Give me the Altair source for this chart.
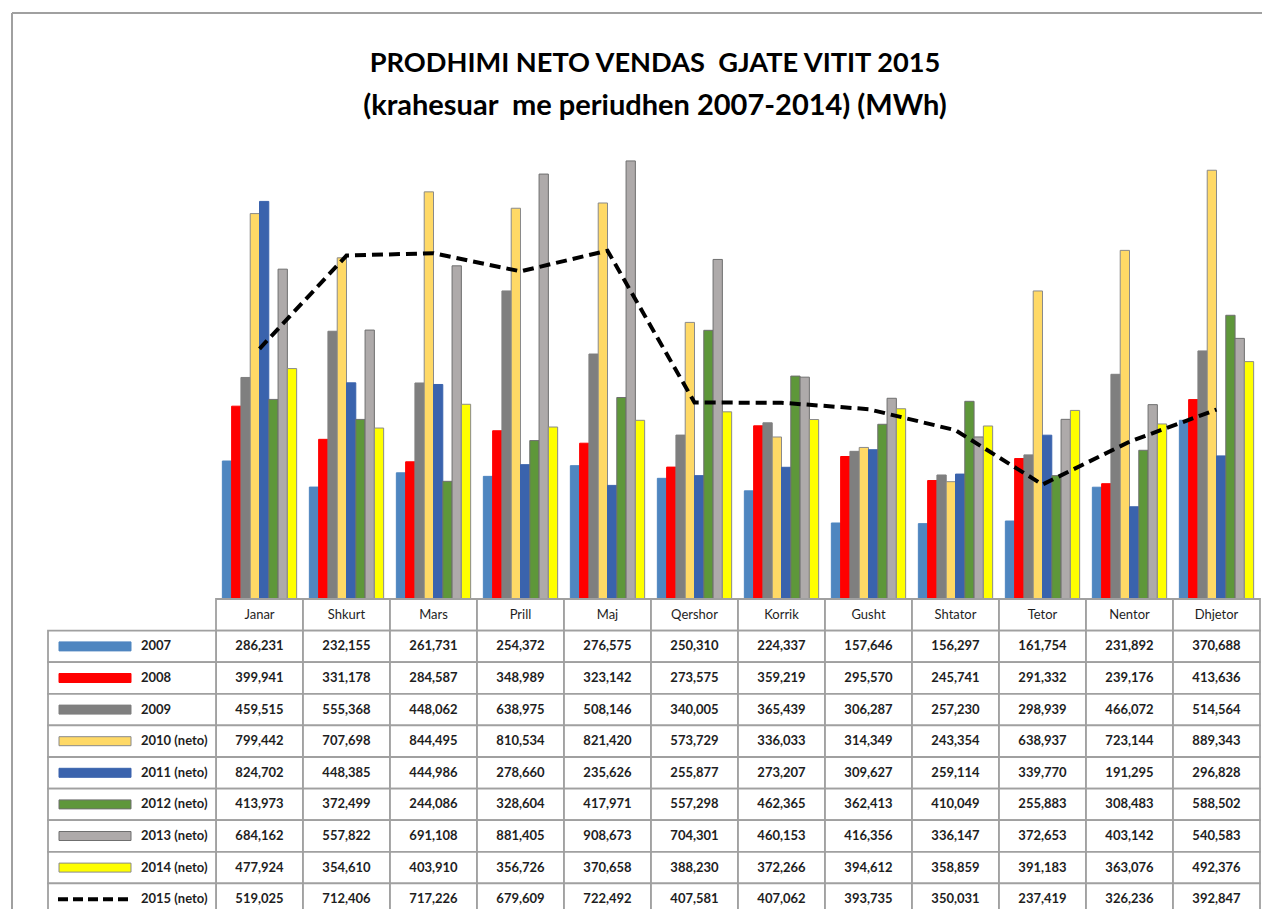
import altair as alt
import pandas as pd

months = ["Janar", "Shkurt", "Mars", "Prill", "Maj", "Qershor", "Korrik",
          "Gusht", "Shtator", "Tetor", "Nentor", "Dhjetor"]
series = ["2007", "2008", "2009", "2010 (neto)", "2011 (neto)", "2012 (neto)",
          "2013 (neto)", "2014 (neto)", "2015 (neto)"]
v2007 = [286231, 232155, 261731, 254372, 276575, 250310, 224337, 157646, 156297, 161754, 231892, 370688]
v2008 = [399941, 331178, 284587, 348989, 323142, 273575, 359219, 295570, 245741, 291332, 239176, 413636]
v2009 = [459515, 555368, 448062, 638975, 508146, 340005, 365439, 306287, 257230, 298939, 466072, 514564]
v2010 = [799442, 707698, 844495, 810534, 821420, 573729, 336033, 314349, 243354, 638937, 723144, 889343]
v2011 = [824702, 448385, 444986, 278660, 235626, 255877, 273207, 309627, 259114, 339770, 191295, 296828]
v2012 = [413973, 372499, 244086, 328604, 417971, 557298, 462365, 362413, 410049, 255883, 308483, 588502]
v2013 = [684162, 557822, 691108, 881405, 908673, 704301, 460153, 416356, 336147, 372653, 403142, 540583]
v2014 = [477924, 354610, 403910, 356726, 370658, 388230, 372266, 394612, 358859, 391183, 363076, 492376]
v2015 = [519025, 712406, 717226, 679609, 722492, 407581, 407062, 393735, 350031, 237419, 326236, 392847]

title_line1 = "PRODHIMI NETO VENDAS\u00a0 GJATE VITIT 2015"
title_line2 = "(krahesuar\u00a0 me periudhen 2007-2014) (MWh)"

fills = ["#4F86C0", "#FF0000", "#7F7F7F", "#FFD966", "#3A63AD", "#5E973A", "#AEAAAA", "#FFFF00"]
strokes = ["#4F86C0", "#FF0000", "#7F7F7F", "#8A8A8A", "#3A63AD", "#6F6F6F", "#6F6F6F", "#8A8A8A"]

FONT = "Lato, sans-serif"
W_LEG, W_PLOT, H_PLOT = 168, 1044, 458
ROW_PX = 31.6
N_ROWS = len(series) + 1
H_TAB = ROW_PX * N_ROWS
W = W_LEG + W_PLOT
H = H_PLOT + H_TAB
GRID = "#A0A0A0"
TXT = "#1E1E1E"

all_vals = [v2007, v2008, v2009, v2010, v2011, v2012, v2013, v2014, v2015]
bar_df = pd.DataFrame([
    {"month": m, "series": s, "value": v}
    for s, vals in zip(series[:8], all_vals[:8]) for m, v in zip(months, vals)
])
line_df = pd.DataFrame({"month": months, "value": v2015})
tab_df = pd.DataFrame([
    {"month": m, "series": s, "row": i + 1, "value": v}
    for i, (s, vals) in enumerate(zip(series, all_vals)) for m, v in zip(months, vals)
])
head_df = pd.DataFrame({"month": months, "row": [0] * len(months)})
cell_df = pd.DataFrame([{"month": m, "row": r} for m in months for r in range(N_ROWS)])
leg_df = pd.DataFrame({"series": series, "row": list(range(1, len(series) + 1))})
one = pd.DataFrame({"k": [0]})

fill_scale = alt.Scale(domain=series[:8], range=fills)
stroke_scale = alt.Scale(domain=series[:8], range=strokes)

# ---- bars + dashed line (upper part)
x_bar = alt.X("month:N", sort=months, axis=None,
              scale=alt.Scale(domain=months, range=[W_LEG, W], paddingInner=0.146, paddingOuter=0.073))
y_val = alt.Y("value:Q", axis=None, scale=alt.Scale(domain=[0, 950000], range=[H_PLOT, 0], nice=False))

bars = alt.Chart(bar_df).mark_bar(strokeWidth=1).encode(
    x=x_bar,
    xOffset=alt.XOffset("series:N", sort=series[:8],
                        scale=alt.Scale(domain=series[:8], paddingInner=0, paddingOuter=0)),
    y=y_val,
    fill=alt.Fill("series:N", scale=fill_scale, legend=None),
    stroke=alt.Stroke("series:N", scale=stroke_scale, legend=None),
)
line = alt.Chart(line_df).mark_line(color="black", strokeWidth=4, strokeDash=[11, 6]).encode(
    x=x_bar, y=y_val)

# ---- outer frame of the chart area and title
frame_v = alt.Chart(one).mark_rule(color=GRID, strokeWidth=2).encode(
    x=alt.value(-36), y=alt.value(-128), y2=alt.value(H))
frame_h = alt.Chart(one).mark_rule(color=GRID, strokeWidth=2).encode(
    x=alt.value(-36), x2=alt.value(1214), y=alt.value(-128))
t1 = alt.Chart(one).mark_text(font=FONT, fontSize=27.2, fontWeight="bold", color="black",
                              baseline="middle", text=title_line1).encode(
    x=alt.value(W / 2 + 1), y=alt.value(-77))
t2 = alt.Chart(one).mark_text(font=FONT, fontSize=29, fontWeight="bold", color="black",
                              baseline="middle", text=title_line2).encode(
    x=alt.value(W / 2 + 1), y=alt.value(-35))

# ---- data table (lower part)
tab_y_scale = alt.Scale(domain=[0, N_ROWS], range=[H_PLOT, H], nice=False, zero=False)
x_tab = alt.X("month:N", sort=months, axis=None,
              scale=alt.Scale(domain=months, range=[W_LEG, W], paddingInner=0, paddingOuter=0))

cells = alt.Chart(cell_df).transform_calculate(r2="datum.row + 1").mark_rect(
    fill="white", stroke=GRID, strokeWidth=1.8).encode(
    x=x_tab, y=alt.Y("row:Q", scale=tab_y_scale, axis=None), y2="r2:Q")
heads = alt.Chart(head_df).transform_calculate(rc="datum.row + 0.5").mark_text(
    font=FONT, fontSize=13, color=TXT).encode(
    x=x_tab, y=alt.Y("rc:Q", scale=tab_y_scale, axis=None), text="month:N")
vals = alt.Chart(tab_df).transform_calculate(rc="datum.row + 0.5").mark_text(
    font=FONT, fontSize=13, fontWeight="bold", color=TXT).encode(
    x=x_tab, y=alt.Y("rc:Q", scale=tab_y_scale, axis=None), text=alt.Text("value:Q", format=","))

leg_cells = alt.Chart(leg_df).transform_calculate(r2="datum.row + 1").mark_rect(
    fill="white", stroke=GRID, strokeWidth=1.8).encode(
    x=alt.value(0), x2=alt.value(W_LEG), y=alt.Y("row:Q", scale=tab_y_scale, axis=None), y2="r2:Q")
leg_sw = alt.Chart(leg_df).transform_filter(alt.datum.row <= 8).transform_calculate(
    rc="datum.row + 0.5").mark_tick(orient="horizontal", size=72, thickness=9, strokeWidth=1,
                                    opacity=1).encode(
    x=alt.value(47), y=alt.Y("rc:Q", scale=tab_y_scale, axis=None),
    fill=alt.Fill("series:N", scale=fill_scale, legend=None),
    stroke=alt.Stroke("series:N", scale=stroke_scale, legend=None))
leg_line = alt.Chart(leg_df).transform_filter(alt.datum.row == 9).transform_calculate(
    rc="datum.row + 0.5").mark_rule(color="black", strokeWidth=4, strokeDash=[10, 5]).encode(
    x=alt.value(10), x2=alt.value(83), y=alt.Y("rc:Q", scale=tab_y_scale, axis=None))
leg_txt = alt.Chart(leg_df).transform_calculate(rc="datum.row + 0.5").mark_text(
    font=FONT, fontSize=13, fontWeight="bold", color=TXT, align="left").encode(
    x=alt.value(93), y=alt.Y("rc:Q", scale=tab_y_scale, axis=None), text="series:N")

chart = alt.layer(
    frame_v, frame_h, t1, t2, bars, line, cells, heads, vals, leg_cells, leg_sw, leg_line, leg_txt
).resolve_scale(x="independent", y="independent").properties(
    width=W, height=H,
    padding={"left": 3, "top": 4, "right": 0, "bottom": 0},
).configure_view(stroke=None)

chart.save("out.html", embed_options={"renderer": "svg", "actions": False})
